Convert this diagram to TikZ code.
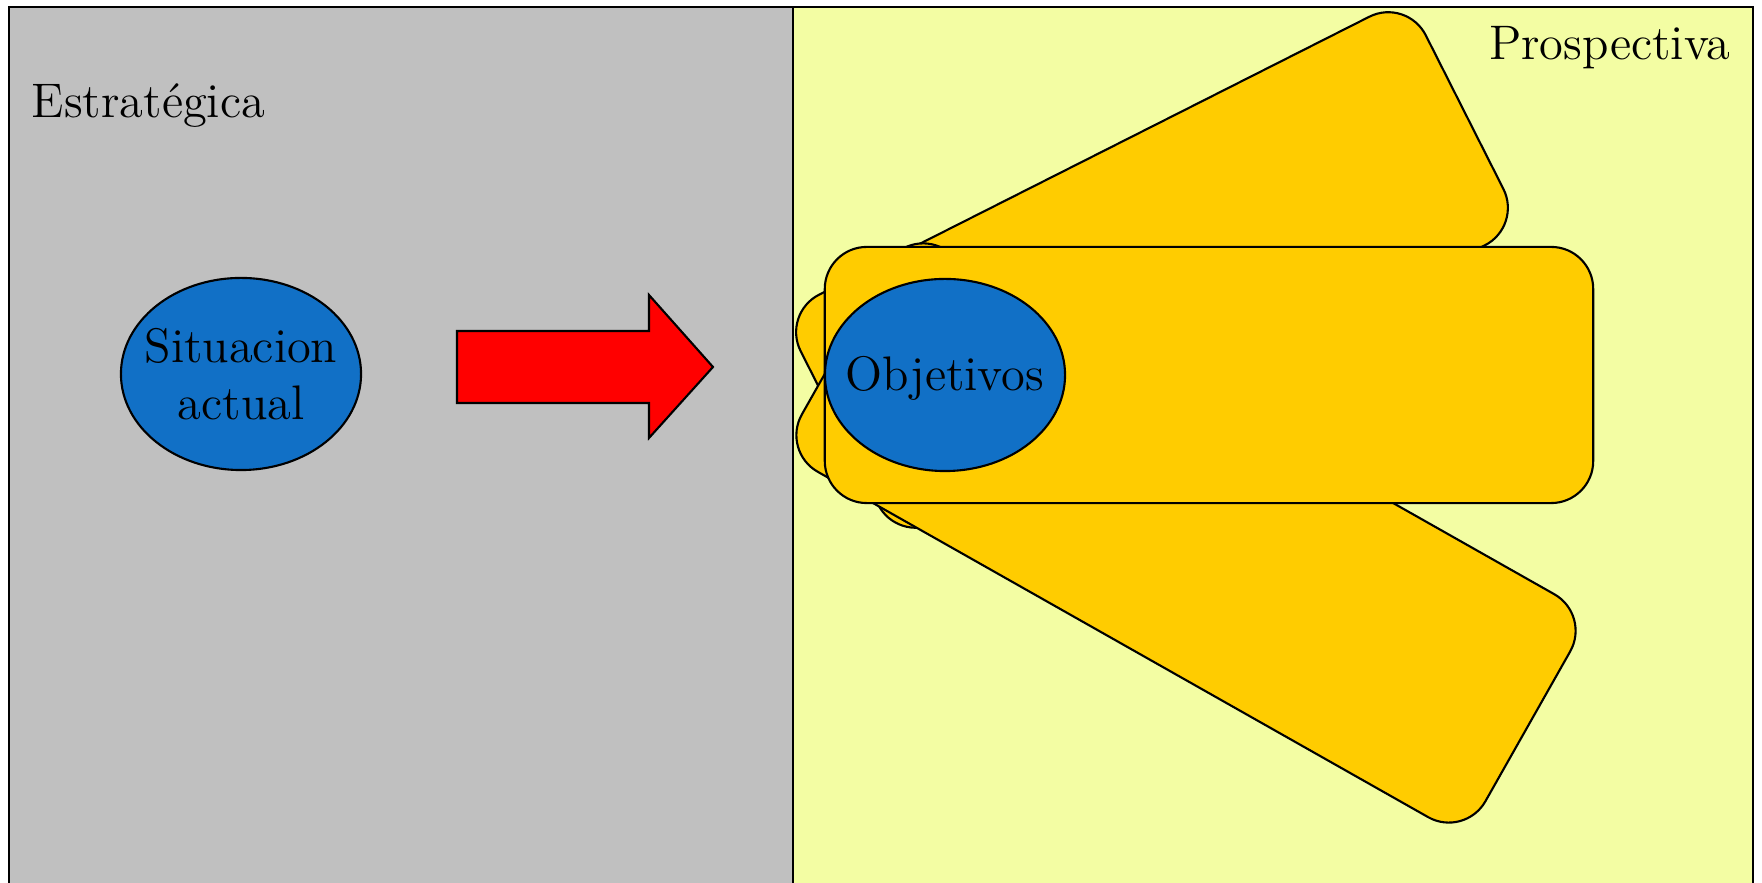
\documentclass[tikz,border=0pt]{standalone}
\usetikzlibrary{shapes.geometric}
\definecolor{grisfondo}{HTML}{C0C0C0}
\definecolor{amarillofondo}{HTML}{F3FDA3}
\definecolor{naranja}{HTML}{FFCC00}
\definecolor{azul}{HTML}{1170C6}

\begin{document}
\begin{tikzpicture}[
    x=0.01cm, y=-0.01cm,
    every node/.style={font=\fontsize{13.8}{16.1}\selectfont},
    card/.style={%
      draw,
      rectangle,
      fill=naranja,
      rounded corners=0.42cm,
      line width=0.6pt,
      minimum height=2.56cm,
      inner sep=0pt,
    },
    oval/.style={%
      draw,
      ellipse,
      fill=azul,
      line width=0.6pt,
      minimum width=2.4cm,
      minimum height=1.92cm,
      inner sep=0pt,
    },
  ]

    \useasboundingbox (0,0) rectangle (1762,883);
    \fill [grisfondo] (9,7) rectangle (793,883);
    \fill [amarillofondo] (793,7) rectangle (1753,883);
    \draw [line width=0.8pt] (9,883) -- (9,7) -- (1753,7) -- (1753,883);
    \draw [line width=0.6pt] (793,7) -- (793,883);

    \node [anchor=base west, inner sep=0pt] (E) at (31,118) {Estratégica};
    \node [anchor=base east, inner sep=0pt] (P) at (1731,60) {Prospectiva};

    \node [oval] (S) at (241,374) {};
    \node [align=center] (St) at (S) {Situacion\\actual};

    \draw [fill=red, line width=0.6pt] (457,331) -- (649,331) -- (649,295) -- (713,367) -- (649,438) -- (649,403) -- (457,403) -- cycle;

    \node [card, minimum width=7cm, rotate=26.8] (Cup) at (1152,270) {};
    \node [card, minimum width=7.85cm, rotate=-29.5] (Cdown) at (1186,533) {};
    \node [card, minimum width=7.68cm] (C) at (1209,375) {};
    \node [oval] (O) at (945,375) {};
    \node (Ot) at ([yshift=-1pt]O) {Objetivos};
\end{tikzpicture}
\end{document}
